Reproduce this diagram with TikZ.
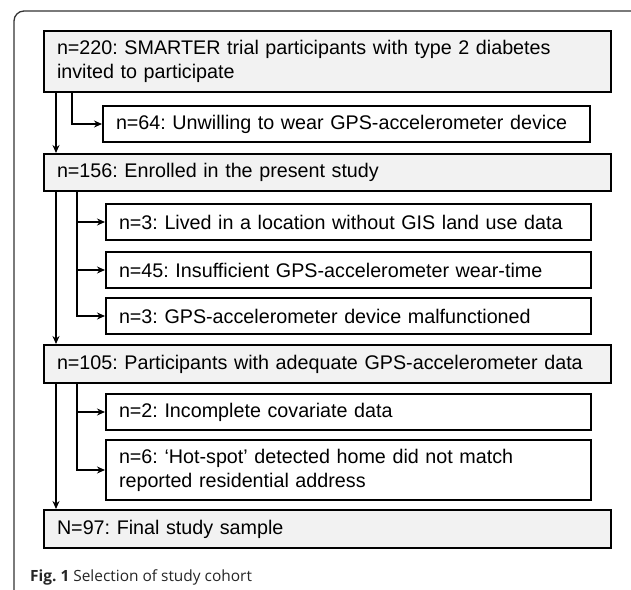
\documentclass[tikz,border=0pt]{standalone}
\usepackage{fontspec}
\setmainfont{Liberation Sans}
\newfontfamily\capfont{Open Sans}
\usetikzlibrary{arrows.meta,shadows}
\definecolor{boxgray}{HTML}{F2F2F2}
\definecolor{framegray}{HTML}{333333}
\frenchspacing
\begin{document}
\begin{tikzpicture}[x=1bp,y=-1bp,
  base/.style={draw=black, line width=2bp, rectangle, anchor=north west,
    inner xsep=13bp, inner ysep=0bp, align=left,
    font=\fontsize{19.8}{24}\selectfont,
    drop shadow={shadow xshift=1.2bp, shadow yshift=-1.2bp, fill=black!30, opacity=0.6}},
  mainbox/.style={base, fill=boxgray, minimum width=567bp, text width=541bp},
  exbox/.style={base, fill=white, minimum width=485bp, text width=459bp},
  arr/.style={line width=2bp, -{Stealth[length=8bp,width=7bp]}},
]
\useasboundingbox (0,0) rectangle (631,590);
% outer frame
\draw[framegray, line width=1.3bp, rounded corners=10bp] (631,11) -- (14,11) -- (14,591);
% boxes
\node[mainbox, minimum height=61bp] (a) at (43,30)
  {n=220: SMARTER trial participants with type 2 diabetes\\invited to participate};
\node[exbox, minimum width=487bp, text width=461bp, minimum height=36bp] (b) at (102,105)
  {n=64: Unwilling to wear GPS-accelerometer device};
\node[mainbox, minimum height=37bp] (c) at (43,153)
  {n=156: Enrolled in the present study};
\node[exbox, minimum height=36bp] (d) at (105,203)
  {n=3: Lived in a location without GIS land use data};
\node[exbox, minimum height=36bp] (e) at (105,251)
  {n=45: Insufficient GPS-accelerometer wear-time};
\node[exbox, minimum height=36bp] (f) at (105,297)
  {n=3: GPS-accelerometer device malfunctioned};
\node[mainbox, minimum height=38bp] (g) at (43,344)
  {n=105: Participants with adequate GPS-accelerometer data};
\node[exbox, minimum height=36bp] (h) at (105,393)
  {n=2: Incomplete covariate data};
\node[exbox, minimum height=60bp] (i) at (105,439)
  {n=6: ‘Hot-spot’ detected home did not match\\reported residential address};
\node[mainbox, minimum height=38bp] (j) at (43,509)
  {N=97: Final study sample};
% caption
\node[anchor=base west, inner sep=0pt, font=\capfont\fontsize{15.5}{18}\selectfont, text=black!85] (cap) at (30,581)
  {\textbf{Fig. 1} Selection of study cohort};
% guide coordinates
\coordinate (t) at (56,0);
\coordinate (b1) at (72,0);
\coordinate (b2) at (77,0);
% trunk arrows
\draw[arr] (t |- a.south) -- (t |- c.north);
\draw[arr] (t |- c.south) -- (t |- g.north);
\draw[arr] (t |- g.south) -- (t |- j.north);
% branch 1
\draw[arr] (b1 |- a.south) -- (b1 |- b.west) -- (b.west);
% branch 2
\draw[arr] (b2 |- c.south) -- (b2 |- f.west) -- (f.west);
\draw[arr] (b2 |- d.west) -- (d.west);
\draw[arr] (b2 |- e.west) -- (e.west);
% branch 3
\draw[arr] (b2 |- g.south) -- (b2 |- i.west) -- (i.west);
\draw[arr] (b2 |- h.west) -- (h.west);
\end{tikzpicture}
\end{document}
